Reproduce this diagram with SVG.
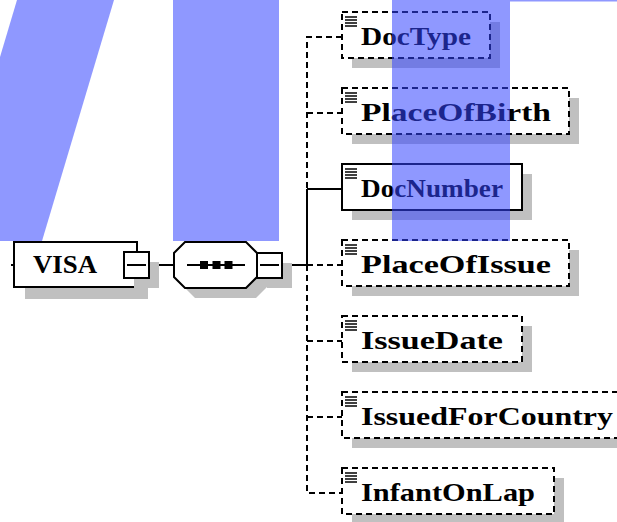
<svg xmlns="http://www.w3.org/2000/svg" width="617" height="522" viewBox="0 0 617 522">
<style>
.sh{fill:#c0c0c0}
.bx{fill:#fff;stroke:#000;stroke-width:2}
.dbx{fill:#fff;stroke:#000;stroke-width:2;stroke-dasharray:6 4}
.ln{stroke:#000;stroke-width:2;fill:none}
.dl{stroke:#000;stroke-width:2;fill:none;stroke-dasharray:6 4}
.ic{stroke:#000;stroke-width:1.5}
.t{font-family:"Liberation Serif","Times New Roman",serif;font-weight:bold;font-size:26px;fill:#000}
.ov{fill:#3344ff;fill-opacity:0.55}
</style>
<defs>
<g id="icon">
<line class="ic" x1="345" y1="0" x2="357" y2="0"/>
<line class="ic" x1="345" y1="3" x2="357" y2="3"/>
<line class="ic" x1="345" y1="6" x2="357" y2="6"/>
<line class="ic" x1="345" y1="9" x2="357" y2="9"/>
</g>
</defs>
<g id="connectors">
<line class="ln" x1="11" y1="265" x2="15" y2="265"/>
<line class="ln" x1="149" y1="265" x2="174" y2="265"/>
<line class="ln" x1="282" y1="265" x2="307" y2="265"/>
<path class="dl" d="M342,37 H307 V189"/>
<line class="ln" x1="307" y1="189" x2="307" y2="265"/>
<path class="dl" d="M307,265 V493 H342"/>
<line class="dl" x1="307" y1="113" x2="342" y2="113"/>
<line class="ln" x1="307" y1="189" x2="342" y2="189"/>
<line class="dl" x1="307" y1="265" x2="342" y2="265"/>
<line class="dl" x1="307" y1="341" x2="342" y2="341"/>
<line class="dl" x1="307" y1="417" x2="342" y2="417"/>
</g>
<g id="visa">
<rect class="sh" x="25" y="253" width="123" height="46"/>
<rect class="bx" x="14" y="242" width="123" height="45"/>
<text class="t" x="33" y="273" textLength="64" lengthAdjust="spacingAndGlyphs">VISA</text>
<rect class="sh" x="134" y="262" width="25" height="26"/>
<rect class="bx" x="124" y="252" width="25" height="26"/>
<line class="ln" x1="127" y1="265" x2="146" y2="265"/>
</g>
<g id="sequence">
<polygon class="sh" points="195,252 256,252 267,263 267,287 256,298 195,298 184,287 184,263"/>
<polygon class="bx" points="185,242 246,242 257,253 257,277 246,288 185,288 174,277 174,253"/>
<line class="ln" x1="187" y1="265" x2="245" y2="265"/>
<rect x="200" y="261" width="8" height="8" fill="#000"/>
<rect x="212.5" y="261" width="8" height="8" fill="#000"/>
<rect x="224.5" y="261" width="8" height="8" fill="#000"/>
<rect class="sh" x="267" y="263" width="25" height="25"/>
<rect class="bx" x="257" y="253" width="25" height="25"/>
<line class="ln" x1="260" y1="265" x2="279" y2="265"/>
</g>
<g id="DocType">
<rect class="sh" x="352" y="22" width="148" height="46"/>
<rect class="dbx" x="342" y="12" width="148" height="46"/>
<use href="#icon" y="17"/>
<text class="t" x="361" y="45" textLength="110" lengthAdjust="spacingAndGlyphs">DocType</text>
</g>
<g id="PlaceOfBirth">
<rect class="sh" x="352" y="98" width="227" height="46"/>
<rect class="dbx" x="342" y="88" width="227" height="46"/>
<use href="#icon" y="93"/>
<text class="t" x="361" y="121" textLength="190" lengthAdjust="spacingAndGlyphs">PlaceOfBirth</text>
</g>
<g id="DocNumber">
<rect class="sh" x="352" y="174" width="180" height="46"/>
<rect class="bx" x="342" y="164" width="180" height="46"/>
<use href="#icon" y="169"/>
<text class="t" x="361" y="197" textLength="142" lengthAdjust="spacingAndGlyphs">DocNumber</text>
</g>
<g id="PlaceOfIssue">
<rect class="sh" x="352" y="250" width="227" height="46"/>
<rect class="dbx" x="342" y="240" width="227" height="46"/>
<use href="#icon" y="245"/>
<text class="t" x="361" y="273" textLength="190" lengthAdjust="spacingAndGlyphs">PlaceOfIssue</text>
</g>
<g id="IssueDate">
<rect class="sh" x="352" y="326" width="180" height="46"/>
<rect class="dbx" x="342" y="316" width="180" height="46"/>
<use href="#icon" y="321"/>
<text class="t" x="361" y="349" textLength="142" lengthAdjust="spacingAndGlyphs">IssueDate</text>
</g>
<g id="IssuedForCountry">
<rect class="sh" x="352" y="402" width="291" height="46"/>
<rect class="dbx" x="342" y="392" width="291" height="46"/>
<use href="#icon" y="397"/>
<text class="t" x="361" y="425" textLength="252" lengthAdjust="spacingAndGlyphs">IssuedForCountry</text>
</g>
<g id="InfantOnLap">
<rect class="sh" x="352" y="478" width="212" height="46"/>
<rect class="dbx" x="342" y="468" width="212" height="46"/>
<use href="#icon" y="473"/>
<text class="t" x="361" y="501" textLength="174" lengthAdjust="spacingAndGlyphs">InfantOnLap</text>
</g>
<g id="overlay">
<polygon class="ov" points="17,0 114,0 42,241 -55,241"/>
<rect class="ov" x="173" y="0" width="106" height="241"/>
<rect class="ov" x="392" y="0" width="118" height="241"/>
<rect class="ov" x="510" y="0" width="107" height="1.5"/>
</g>
</svg>
